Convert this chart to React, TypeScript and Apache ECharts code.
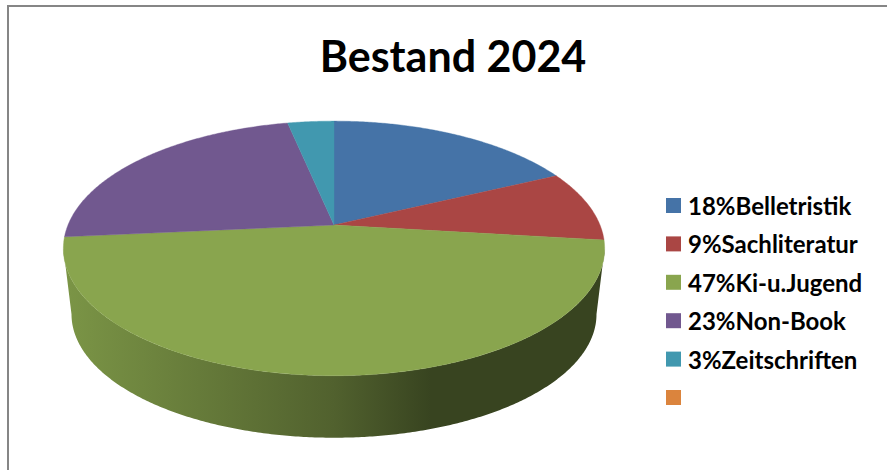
import React, { useEffect, useRef } from "react";
import * as echarts from "echarts";

const titleText = "Bestand 2024";
const legendLabels = ["18%Belletristik", "9%Sachliteratur", "47%Ki-u.Jugend", "23%Non-Book", "3%Zeitschriften", " "];
const shares = [17.9, 9.0, 46.6, 23.2, 3.3, 0];
const colors = ["#4573A7", "#AA4644", "#89A54E", "#71588F", "#4198AF", "#DB843D"];

// projection of the tilted disc
const CX = 334;
const TOP_Y = 225;
const RX = 266;
const LIFT = 123;
const PERSP = 0.184;
const BOTTOM_Y = 291.5;
const BOTTOM_SCALE = 0.97;
const WALL_X0 = 64;
const WALL_X1 = 604;
const total = shares.reduce((a, b) => a + b, 0);
const silhouette = (Math.acos(-PERSP) * 180) / Math.PI;

function project(deg: number, cy: number, scale: number): number[] {
  const t = (deg * Math.PI) / 180;
  const far = Math.cos(t);
  const side = Math.sin(t);
  const d = 1 + PERSP * far;
  return [CX + (scale * RX * side) / d, cy - (scale * LIFT * far) / d];
}

function arcPoints(a0: number, a1: number, cy: number, scale: number): number[][] {
  const n = Math.max(2, Math.ceil(Math.abs(a1 - a0) * 2));
  const pts: number[][] = [];
  for (let i = 0; i <= n; i++) pts.push(project(a0 + ((a1 - a0) * i) / n, cy, scale));
  return pts;
}

function shade(hex: string, k: number): string {
  const v = parseInt(hex.slice(1), 16);
  const c = [(v >> 16) & 255, (v >> 8) & 255, v & 255].map((x) => Math.round(x * k));
  return `rgb(${c[0]},${c[1]},${c[2]})`;
}

function makeRenderItem(index: number) {
  const before = shares.slice(0, index).reduce((a, b) => a + b, 0);
  return (_params: any, api: any) => {
    const value = api.value(0);
    const a0 = (before / total) * 360;
    const a1 = ((before + value) / total) * 360;
    const children: any[] = [];
    if (value <= 0) return { type: "group", children };
    const w0 = Math.max(a0, silhouette);
    const w1 = Math.min(a1, 360 - silhouette);
    if (w1 > w0) {
      const pts = [...arcPoints(w0, w1, TOP_Y, 1), ...arcPoints(w1, w0, BOTTOM_Y, BOTTOM_SCALE)];
      children.push({
        type: "polygon",
        z2: 1,
        shape: { points: pts },
        style: {
          fill: new echarts.graphic.LinearGradient(
            WALL_X0, 0, WALL_X1, 0,
            [
              { offset: 0, color: shade(colors[index], 0.9) },
              { offset: 0.5, color: shade(colors[index], 0.59) },
              { offset: 0.68, color: shade(colors[index], 0.41) },
              { offset: 1, color: shade(colors[index], 0.41) },
            ],
            true
          ),
        },
      });
    }
    children.push({
      type: "polygon",
      z2: 2,
      shape: { points: [[CX, TOP_Y], ...arcPoints(a0, a1, TOP_Y, 1)] },
      style: { fill: colors[index], stroke: colors[index], lineWidth: 0.4 },
    });
    return { type: "group", children };
  };
}

export default function App() {
  const ref = useRef<HTMLDivElement>(null);
  useEffect(() => {
    const chart = echarts.init(ref.current!, undefined, { renderer: "svg" });
    chart.setOption({
      animation: false,
      backgroundColor: "#ffffff",
      title: {
        text: titleText,
        left: 453,
        top: 34,
        padding: 0,
        textAlign: "center",
        textStyle: { fontFamily: "Lato", fontWeight: "bold", fontSize: 43, color: "#000000" },
      },
      legend: {
        orient: "vertical",
        left: 666,
        top: 191.5,
        padding: 0,
        icon: "rect",
        itemWidth: 15,
        itemHeight: 15,
        itemGap: 10.4,
        selectedMode: false,
        textStyle: { fontFamily: "Lato", fontWeight: "bold", fontSize: 24, color: "#000000", lineHeight: 24, padding: [0, 0, 4, 2] },
        data: legendLabels,
      },
      graphic: [
        { type: "line", silent: true, shape: { x1: 8, y1: 6, x2: 887, y2: 6 }, style: { stroke: "#868686", lineWidth: 2 } },
        { type: "line", silent: true, shape: { x1: 8, y1: 5, x2: 8, y2: 470 }, style: { stroke: "#868686", lineWidth: 2 } },
      ],
      series: legendLabels.map((name, i) => ({
        type: "custom",
        name,
        coordinateSystem: "none",
        silent: true,
        itemStyle: { color: colors[i] },
        renderItem: makeRenderItem(i),
        data: [[shares[i]]],
      })),
    });
    return () => chart.dispose();
  }, []);
  return <div ref={ref} style={{ position: "absolute", left: 0, top: 0, width: 887, height: 470 }} />;
}
